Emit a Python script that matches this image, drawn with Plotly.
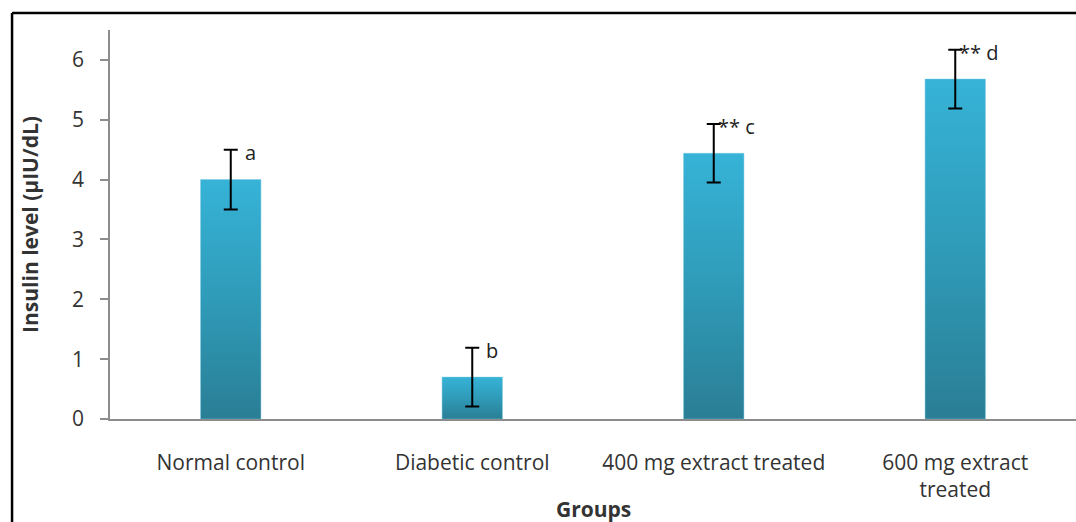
import plotly.graph_objects as go

# ---- data ----
groups = ["Normal control", "Diabetic control", "400 mg extract treated", "600 mg extract<br>treated"]
insulin = [4.0, 0.7, 4.44, 5.68]
sem = [0.5, 0.49, 0.49, 0.49]
labels = ["a", "b", "** c", "** d"]
y_ticks = [0, 1, 2, 3, 4, 5, 6]

FONT = "Open Sans"
BAR_HALF = 0.125
label_shift = [12, 12, 2, 2]

fig = go.Figure()

# gradient-filled bars (one polygon per bar, built from the values)
for i, v in enumerate(insulin):
    xs = [i - BAR_HALF, i + BAR_HALF, i + BAR_HALF, i - BAR_HALF, i - BAR_HALF]
    ys = [0, 0, v, v, 0]
    fig.add_trace(go.Scatter(
        x=xs, y=ys, mode="lines", fill="toself",
        line=dict(width=0.8, color="rgba(120,200,225,0.6)"),
        fillgradient=dict(type="vertical", start=0, stop=v,
                          colorscale=[[0, "#2a7e95"], [0.5, "#2f9bb8"], [1, "#36b3d7"]]),
        hoverinfo="skip", showlegend=False,
    ))

# error bars
fig.add_trace(go.Scatter(
    x=list(range(len(groups))), y=insulin, mode="markers",
    marker=dict(size=1, opacity=0),
    error_y=dict(type="data", array=sem, visible=True, color="black", thickness=2, width=7),
    showlegend=False,
))

for i, (v, e, t) in enumerate(zip(insulin, sem, labels)):
    fig.add_annotation(x=i, y=v + e, text=t, showarrow=False, xanchor="left",
                       yanchor="middle", xshift=label_shift[i], yshift=-3,
                       font=dict(family=FONT, size=20, color="#222"))

# x-axis title
fig.add_annotation(x=0.5, y=-0.231, xref="paper", yref="paper", text="<b>Groups</b>",
                   showarrow=False, xanchor="center", yanchor="middle",
                   font=dict(family=FONT, size=21, color="#333333"))

fig.update_layout(
    width=1076, height=522,
    margin=dict(l=110, r=0, t=30, b=103),
    paper_bgcolor="white", plot_bgcolor="white",
    font=dict(family=FONT, color="#333333"),
    shapes=[
        dict(type="line", xref="paper", yref="paper", x0=-0.1014, x1=1.05, y0=1.0437, y1=1.0437,
             line=dict(color="black", width=2.5)),
        dict(type="line", xref="paper", yref="paper", x0=-0.1014, x1=-0.1014, y0=1.0437, y1=-0.5,
             line=dict(color="black", width=2.5)),
    ],
)

fig.update_xaxes(
    range=[-0.5, 3.5], tickvals=list(range(len(groups))), ticktext=groups,
    showgrid=False, zeroline=False, showline=True, linecolor="#8c8c8c", linewidth=1.5,
    ticks="", tickfont=dict(family=FONT, size=21, color="#333333"), ticklabelstandoff=24,
    automargin=False,
)
fig.update_yaxes(
    range=[0, 6.5], tickvals=y_ticks, showgrid=False, zeroline=False,
    showline=True, linecolor="#8c8c8c", linewidth=1.5,
    ticks="outside", ticklen=8, tickcolor="#8c8c8c", tickwidth=1.5,
    tickfont=dict(family=FONT, size=21, color="#333333"), ticklabelstandoff=12,
    title=dict(text="<b>Insulin level (µIU/dL)</b>", font=dict(family=FONT, size=21, color="#333333"), standoff=28),
    automargin=False,
)

fig.write_html("out.html")
